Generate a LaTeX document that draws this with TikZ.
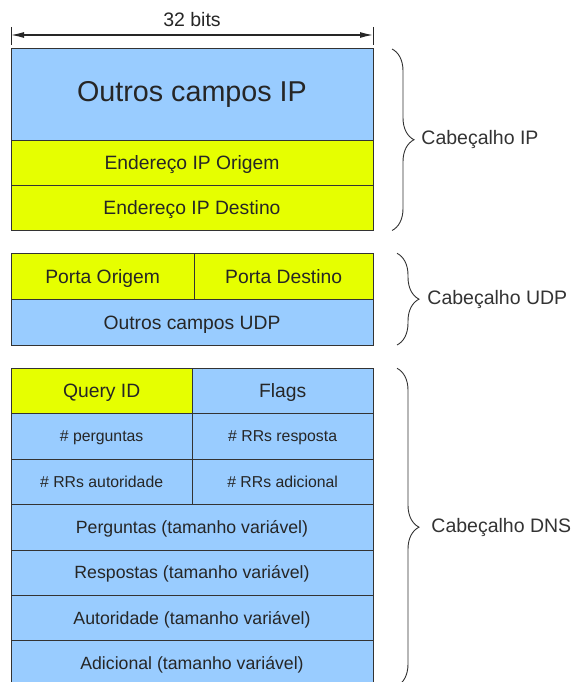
\documentclass[tikz,border=0pt]{standalone}
\usepackage{fontspec}
\setmainfont{Liberation Sans}
\usepackage{tikz}
\usepackage{xcolor}
\usetikzlibrary{arrows.meta}
\usetikzlibrary{decorations.pathreplacing}
\definecolor{azulcampo}{HTML}{99CCFF}
\definecolor{amarelocampo}{HTML}{E6FF00}
\definecolor{linha}{HTML}{333333}

\begin{document}
\begin{tikzpicture}[x=1pt,y=-1pt,
        campo/.style={draw=linha,line width=1pt,anchor=north west,inner sep=0pt,outer sep=0pt,
            text height=14pt,text depth=0.2pt,
            text=black!85,font=\fontsize{19.3}{22}\selectfont},
        azul/.style={campo,fill=azulcampo},
        amarelo/.style={campo,fill=amarelocampo},
        pequeno/.style={font=\fontsize{15.8}{18}\selectfont,text height=11.5pt},
        longo/.style={font=\fontsize{17.7}{20}\selectfont,text height=12.9pt},
        grande/.style={font=\fontsize{28.7}{32}\selectfont,text height=14.7pt},
        chave/.style={decorate,decoration={brace,amplitude=22pt},draw=linha,line width=0.9pt},
        rotulo/.style={anchor=west,inner sep=0pt,text=black!80,font=\fontsize{19.5}{22}\selectfont},
        cota/.style={{Latex[length=13pt,width=6pt]}-{Latex[length=13pt,width=6pt]},line width=1.2pt,draw=black!85}]
        \useasboundingbox (0,0) rectangle (576,682);

        % cabecalho IP
        \node[azul,grande,minimum width=362pt,minimum height=91.5pt] (ipOutros) at (11,49) {Outros campos IP};
        \node[amarelo,minimum width=362pt,minimum height=45pt] (ipOrigem) at (11,140.5) {Endereço IP Origem};
        \node[amarelo,minimum width=362pt,minimum height=45pt] (ipDestino) at (11,185.5) {Endereço IP Destino};

        % cabecalho UDP
        \node[amarelo,minimum width=183.3pt,minimum height=46pt] (udpOrigem) at (11,253.3) {Porta Origem};
        \node[amarelo,minimum width=178.7pt,minimum height=46pt] (udpDestino) at (194.3,253.3) {Porta Destino};
        \node[azul,minimum width=362pt,minimum height=45.7pt] (udpOutros) at (11,299.3) {Outros campos UDP};

        % cabecalho DNS
        \node[amarelo,minimum width=181.3pt,minimum height=45pt] (dnsQuery) at (11,368.3) {Query ID};
        \node[azul,minimum width=180.7pt,minimum height=45pt] (dnsFlags) at (192.3,368.3) {Flags};
        \node[azul,pequeno,minimum width=181.3pt,minimum height=45.7pt] (dnsNumPerg) at (11,413.3) {\# perguntas};
        \node[azul,pequeno,minimum width=180.7pt,minimum height=45.7pt] (dnsNumResp) at (192.3,413.3) {\# RRs resposta};
        \node[azul,pequeno,minimum width=181.3pt,minimum height=45.5pt] (dnsNumAut) at (11,459) {\# RRs autoridade};
        \node[azul,pequeno,minimum width=180.7pt,minimum height=45.5pt] (dnsNumAdic) at (192.3,459) {\# RRs adicional};
        \node[azul,longo,minimum width=362pt,minimum height=45.5pt] (dnsPerguntas) at (11,504.5) {Perguntas (tamanho variável)};
        \node[azul,longo,minimum width=362pt,minimum height=45pt] (dnsRespostas) at (11,550) {Respostas (tamanho variável)};
        \node[azul,longo,minimum width=362pt,minimum height=45.5pt] (dnsAutoridade) at (11,595) {Autoridade (tamanho variável)};
        \node[azul,longo,minimum width=362pt,minimum height=45.5pt] (dnsAdicional) at (11,640.5) {Adicional (tamanho variável)};

        % cota de 32 bits
        \coordinate (bitsEsq) at (11,35);
        \coordinate (bitsDir) at (373,35);
        \draw[line width=0.9pt,draw=black!85] (11,27) -- (11,45);
        \draw[line width=0.9pt,draw=black!85] (373,27) -- (373,45);
        \draw[cota] (bitsEsq) -- (bitsDir) node[midway,yshift=15pt,text=black!85,font=\fontsize{19.5}{22}\selectfont] (bitsTexto) {32 bits};

        % chaves
        \draw[chave] ([xshift=19pt]ipOutros.north east) -- ([xshift=19pt]ipDestino.south east)
            node[midway,rotulo,xshift=29pt] (rotIP) {Cabeçalho IP};
        \draw[chave] ([xshift=24pt]udpDestino.north east) -- ([xshift=24pt]udpOutros.south east)
            node[midway,rotulo,xshift=30pt] (rotUDP) {Cabeçalho UDP};
        \draw[chave] ([xshift=24pt]dnsFlags.north east) -- ([xshift=24pt]dnsAdicional.south east)
            node[midway,rotulo,xshift=34pt] (rotDNS) {Cabeçalho DNS};
\end{tikzpicture}
\end{document}
